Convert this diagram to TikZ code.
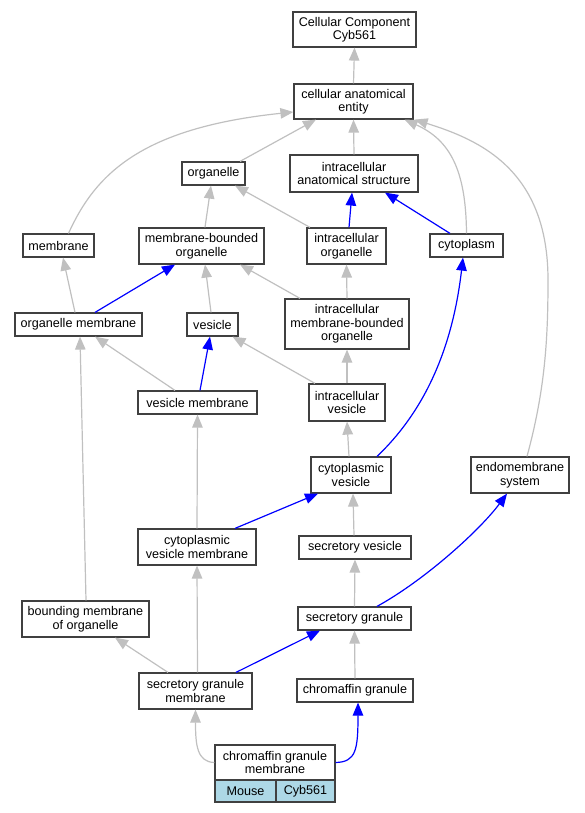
\documentclass[tikz,border=0pt]{standalone}
\usepackage{fontspec}
\setmainfont{Liberation Sans}
\usetikzlibrary{arrows.meta}
\definecolor{edgegrey}{HTML}{C0C0C0}
\definecolor{edgeblue}{HTML}{0000FF}
\definecolor{boxline}{HTML}{404040}
\definecolor{lblue}{HTML}{ADD8E6}
\begin{document}
\begin{tikzpicture}[x=1pt,y=-1pt,
  box/.style={draw=boxline,fill=white,line width=1.2pt,inner sep=0pt,align=center,
    font=\fontsize{12.6}{13.5}\selectfont},
  ge/.style={draw=edgegrey,line width=1.2pt,-{Triangle[length=13pt,width=10.5pt]},color=edgegrey},
  be/.style={draw=edgeblue,line width=1.2pt,-{Triangle[length=13pt,width=10.5pt]},color=edgeblue}]
\useasboundingbox (0,0) rectangle (585,813);
\node[box,minimum width=123pt,minimum height=35pt] (cc) at (354.5,29.5) {Cellular Component\\Cyb561};
\node[box,minimum width=119pt,minimum height=35pt] (cae) at (353.5,101.5) {cellular anatomical\\entity};
\node[box,minimum width=63pt,minimum height=23pt] (org) at (213.5,173.5) {organelle};
\node[box,minimum width=128pt,minimum height=37pt] (ias) at (354,173.5) {intracellular\\anatomical structure};
\node[box,minimum width=71pt,minimum height=23pt] (mem) at (58.5,245.5) {membrane};
\node[box,minimum width=125pt,minimum height=36pt] (mbo) at (201.5,246) {membrane-bounded\\organelle};
\node[box,minimum width=79pt,minimum height=36pt] (io) at (346.5,246) {intracellular\\organelle};
\node[box,minimum width=73pt,minimum height=23pt] (cyto) at (466.5,245.5) {cytoplasm};
\node[box,minimum width=127pt,minimum height=23pt] (om) at (78.5,324.5) {organelle membrane};
\node[box,minimum width=51pt,minimum height=23pt] (ves) at (212.5,324.5) {vesicle};
\node[box,minimum width=124pt,minimum height=50pt] (imbo) at (347,324) {intracellular\\membrane-bounded\\organelle};
\node[box,minimum width=119pt,minimum height=23pt] (vm) at (197.5,402.5) {vesicle membrane};
\node[box,minimum width=76pt,minimum height=37pt] (iv) at (347,402.5) {intracellular\\vesicle};
\node[box,minimum width=80pt,minimum height=36pt] (cv) at (351,475) {cytoplasmic\\vesicle};
\node[box,minimum width=98pt,minimum height=36pt] (endo) at (520,475) {endomembrane\\system};
\node[box,minimum width=118pt,minimum height=36pt] (cvm) at (197,547) {cytoplasmic\\vesicle membrane};
\node[box,minimum width=112pt,minimum height=23pt] (sv) at (355,547.5) {secretory vesicle};
\node[box,minimum width=127pt,minimum height=36pt] (bmo) at (85.5,619) {bounding membrane\\of organelle};
\node[box,minimum width=113pt,minimum height=23pt] (sg) at (354.5,618.5) {secretory granule};
\node[box,minimum width=113pt,minimum height=36pt] (sgm) at (195.5,691) {secretory granule\\membrane};
\node[box,minimum width=116pt,minimum height=23pt] (cg) at (355,690.5) {chromaffin granule};
\node[box,minimum width=120pt,minimum height=35pt] (cgm) at (275,762.5) {chromaffin granule\\membrane};
\node[box,fill=lblue,minimum width=61pt,minimum height=22pt] (mouse) at (245.5,791) {Mouse};
\node[box,fill=lblue,minimum width=59pt,minimum height=22pt] (gene) at (305.5,791) {Cyb561};
% edges
\draw[ge] (cae.north) -- (cc.south);
\draw[ge] ([xshift=26.5pt]org.north) -- ([xshift=-37.5pt]cae.south);
\draw[ge] (ias.north) -- (cae.south);
\draw[ge] ([xshift=10pt]mem.north) .. controls (95,175) and (140,128) .. ([yshift=-10.5pt]cae.west);
\draw[ge] (cyto.north) .. controls (466,170) and (450,140) .. ([xshift=-9pt]cae.south east);
\draw[ge] ([xshift=7pt]endo.north) .. controls (545,390) and (548,340) .. (548,280) .. controls (548,170) and (480,140) .. ([xshift=1pt]cae.south east);
\draw[ge] ([xshift=3.5pt]mbo.north) -- ([xshift=-2.5pt]org.south);
\draw[ge] ([xshift=-36.5pt]io.north) -- ([xshift=21.5pt]org.south);
\draw[be] ([xshift=2.5pt]io.north) -- ([xshift=-2pt]ias.south);
\draw[be] ([xshift=-16.5pt]cyto.north) -- ([xshift=31pt]ias.south);
\draw[ge] ([xshift=-3.5pt]om.north) -- ([xshift=4.5pt]mem.south);
\draw[be] ([xshift=16.5pt]om.north) -- ([xshift=-26.5pt]mbo.south);
\draw[ge] ([xshift=-1.5pt]ves.north) -- ([xshift=3.5pt]mbo.south);
\draw[ge] ([xshift=-47pt]imbo.north) -- ([xshift=38.5pt]mbo.south);
\draw[ge] (imbo.north) -- (io.south);
\draw[ge] ([xshift=-22.5pt]vm.north) -- ([xshift=16.5pt]om.south);
\draw[ge] ([xshift=0.5pt]bmo.north) -- ([xshift=1.5pt]om.south);
\draw[be] ([xshift=2.5pt]vm.north) -- ([xshift=-2.5pt]ves.south);
\draw[ge] ([xshift=-32pt]iv.north) -- ([xshift=20pt]ves.south);
\draw[ge] (iv.north) -- (imbo.south);
\draw[ge] ([xshift=-2pt]cv.north) -- (iv.south);
\draw[be] ([xshift=26pt]cv.north) .. controls (410,425) and (450,370) .. ([xshift=-3.5pt]cyto.south);
\draw[ge] (cvm.north) -- (vm.south);
\draw[be] ([xshift=38pt]cvm.north) -- ([xshift=-33pt]cv.south);
\draw[ge] ([xshift=-1pt]sv.north) -- ([xshift=2pt]cv.south);
\draw[be] ([xshift=22.5pt]sg.north) .. controls (425,580) and (480,530) .. ([xshift=-13pt]endo.south);
\draw[ge] (sg.north) -- (sv.south);
\draw[ge] ([xshift=-27.5pt]sgm.north) -- ([xshift=29.5pt]bmo.south);
\draw[ge] ([xshift=2pt]sgm.north) -- (cvm.south);
\draw[be] ([xshift=40.5pt]sgm.north) -- ([xshift=-34.5pt]sg.south);
\draw[ge] (cg.north) -- (sg.south);
\draw[ge] (cgm.west) .. controls (197,762) and (195.5,745) .. (sgm.south);
\draw[be] (cgm.east) .. controls (356,762) and (358,750) .. ([xshift=3pt]cg.south);
\end{tikzpicture}
\end{document}
